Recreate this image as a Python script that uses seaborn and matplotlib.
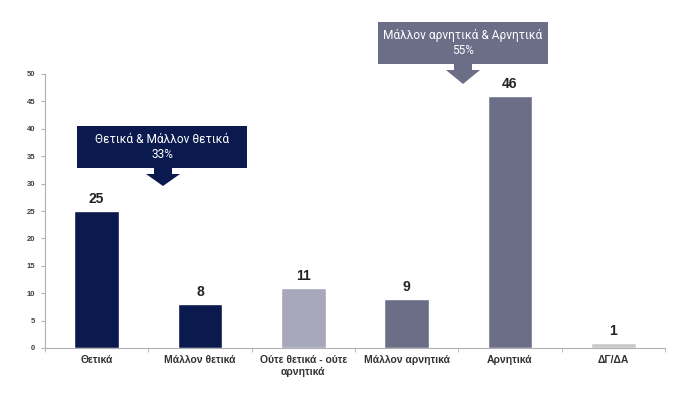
import matplotlib
matplotlib.use("Agg")
import matplotlib.pyplot as plt
import seaborn as sns
import pandas as pd
from matplotlib.patches import Polygon, Rectangle

categories = ["Θετικά", "Μάλλον θετικά", "Ούτε θετικά - ούτε\nαρνητικά", "Μάλλον αρνητικά", "Αρνητικά", "ΔΓ/ΔΑ"]
values = [25, 8, 11, 9, 46, 1]
colors = ["#0b1a4e", "#0b1a4e", "#a7a9ba", "#6c6e88", "#6c6e88", "#c9c9cc"]
y_ticks = [0, 5, 10, 15, 20, 25, 30, 35, 40, 45, 50]
callout_texts = ["Θετικά & Μάλλον θετικά\n33%", "Μάλλον αρνητικά & Αρνητικά\n55%"]
callout_colors = ["#0b1a4e", "#6c6e88"]

sns.set_style("white")
plt.rcParams['font.family'] = ['Liberation Sans', 'DejaVu Sans']

W, H = 700, 404
fig = plt.figure(figsize=(7, 4.04), dpi=100)
ax = fig.add_axes([45 / W, 1 - 348 / H, 620 / W, (348 - 74) / H])

df = pd.DataFrame({"cat": categories, "val": values})
sns.barplot(data=df, x="cat", y="val", hue="cat", palette=colors, legend=False,
            width=0.43, saturation=1, ax=ax)

ax.set_xlim(-0.5, 5.5)
ax.set_ylim(0, 50)
ax.set_yticks(y_ticks)
ax.set_xlabel("")
ax.set_ylabel("")
for s in ["top", "right"]:
    ax.spines[s].set_visible(False)
for s in ["left", "bottom"]:
    ax.spines[s].set_color("#b0b0b0")
    ax.spines[s].set_linewidth(0.8)
ax.tick_params(axis="y", length=3, color="#b0b0b0", labelsize=5.5, labelcolor="#404040", pad=4, left=True)
for t in ax.get_yticklabels():
    t.set_fontweight("bold")
ax.tick_params(axis="x", which="major", length=0, labelsize=7.5, labelcolor="#333333", pad=5)
for t in ax.get_xticklabels():
    t.set_fontweight("bold")
ax.set_xticks([i + 0.5 for i in range(-1, 6)], minor=True)
ax.tick_params(axis="x", which="minor", length=3, color="#b0b0b0", bottom=True)

for i, v in enumerate(values):
    ax.text(i, v + 0.9, str(v), ha="center", va="bottom", fontsize=10, fontweight="bold", color="#222222")

def px(x, y):
    return (x / W, 1 - y / H)

def callout(x0, x1, y0, y1, ax_c, tip, color, text):
    fig.patches.append(Rectangle(px(x0, y1), (x1 - x0) / W, (y1 - y0) / H,
                                 transform=fig.transFigure, facecolor=color, edgecolor="none"))
    pts = [(ax_c - 9, y1), (ax_c + 9, y1), (ax_c + 9, y1 + 6), (ax_c + 17, y1 + 6),
           (ax_c, tip), (ax_c - 17, y1 + 6), (ax_c - 9, y1 + 6)]
    fig.patches.append(Polygon([px(*p) for p in pts], closed=True, transform=fig.transFigure,
                               facecolor=color, edgecolor="none"))
    cx, cy = px((x0 + x1) / 2, (y0 + y1) / 2)
    fig.text(cx, cy, text, ha="center", va="center", color="white", fontsize=8.6,
             linespacing=1.2, fontfamily=["Roboto", "DejaVu Sans"])

callout(77, 247, 126, 168, 163, 186, callout_colors[0], callout_texts[0])
callout(378, 548, 22, 64, 463, 84, callout_colors[1], callout_texts[1])

fig.savefig("out.png", dpi=100)
